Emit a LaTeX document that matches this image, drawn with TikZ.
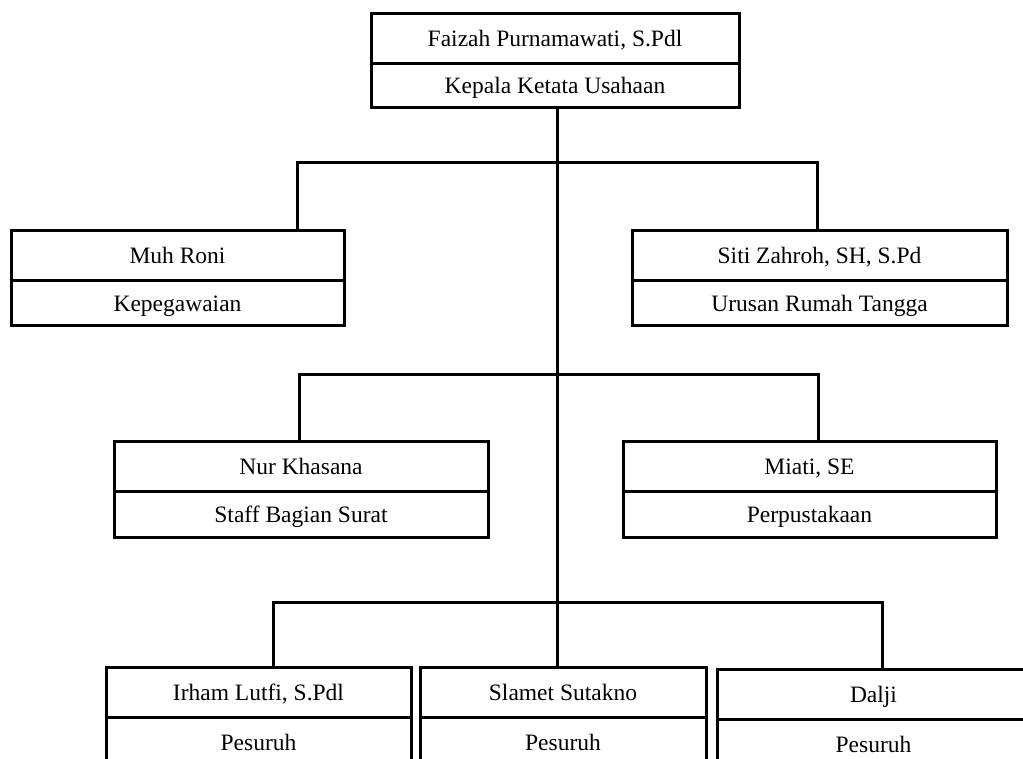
\documentclass[tikz,border=0pt]{standalone}
\usepackage{fontspec}
\setmainfont{Liberation Serif}
\begin{document}
\begin{tikzpicture}[x=1pt,y=-1pt,
  cell/.style={draw=black, line width=3pt, inner sep=0pt, rectangle,
    text height=18pt, text depth=2pt,
    font=\fontsize{23.5}{27}\selectfont, text=black},
  conn/.style={draw=black, line width=3pt, line join=miter}]
\useasboundingbox (0,0) rectangle (1023,759);
\clip (0,0) rectangle (1023,759);
% top
\node[cell, minimum width=368pt, minimum height=50pt] (top1) at (555,39) {Faizah Purnamawati, S.Pdl};
\node[cell, minimum width=368pt, minimum height=44pt] (top2) at (555,86) {Kepala Ketata Usahaan};
% level 1
\node[cell, minimum width=333pt, minimum height=50pt] (muh1) at (177.5,256) {Muh Roni};
\node[cell, minimum width=333pt, minimum height=45pt] (muh2) at (177.5,303.5) {Kepegawaian};
\node[cell, minimum width=375pt, minimum height=50pt] (siti1) at (819.5,256) {Siti Zahroh, SH, S.Pd};
\node[cell, minimum width=375pt, minimum height=45pt] (siti2) at (819.5,303.5) {Urusan Rumah Tangga};
% level 2
\node[cell, minimum width=374pt, minimum height=50pt] (nur1) at (301,466) {Nur Khasana};
\node[cell, minimum width=374pt, minimum height=46pt] (nur2) at (301,514) {Staff Bagian Surat};
\node[cell, minimum width=373pt, minimum height=50pt] (mia1) at (809.5,466) {Miati, SE};
\node[cell, minimum width=373pt, minimum height=46pt] (mia2) at (809.5,514) {Perpustakaan};
% level 3
\node[cell, minimum width=305pt, minimum height=50pt] (irh1) at (258.5,692) {Irham Lutfi, S.Pdl};
\node[cell, minimum width=305pt, minimum height=50pt] (irh2) at (258.5,742) {Pesuruh};
\node[cell, minimum width=286pt, minimum height=50pt] (sla1) at (563,692) {Slamet Sutakno};
\node[cell, minimum width=286pt, minimum height=50pt] (sla2) at (563,742) {Pesuruh};
\node[cell, minimum width=313pt, minimum height=50pt] (dal1) at (873.5,694) {Dalji};
\node[cell, minimum width=313pt, minimum height=50pt] (dal2) at (873.5,744) {Pesuruh};
% junction coordinates
\coordinate (t1) at (557,163);
\coordinate (t2) at (557,374);
\coordinate (t3) at (557,602);
\coordinate (a1) at (297,163);
\coordinate (b1) at (817,163);
\coordinate (a2) at (299,374);
\coordinate (b2) at (818,374);
\coordinate (a3) at (273,602);
\coordinate (b3) at (882,602);
% connectors
\draw[conn] (top2.south -| t1) -- (t3) -- (t3 |- sla1.north);
\draw[conn] (a1 |- muh1.north) -- (a1) -- (b1) -- (b1 |- siti1.north);
\draw[conn] (a2 |- nur1.north) -- (a2) -- (b2) -- (b2 |- mia1.north);
\draw[conn] (a3 |- irh1.north) -- (a3) -- (b3) -- (b3 |- dal1.north);
\end{tikzpicture}
\end{document}
